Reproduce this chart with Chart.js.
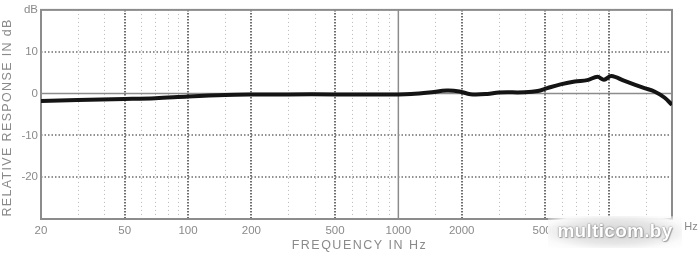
<!DOCTYPE html>
<html>
<head>
<meta charset="utf-8">
<script src="https://cdn.jsdelivr.net/npm/chart.js@4/dist/chart.umd.min.js"></script>
<style>
    html, body { margin: 0; padding: 0; background: #fff; }
    #wrap { position: relative; width: 700px; height: 254px; }
    #mark {
        position: absolute; left: 548px; top: 216px; width: 134px; height: 32px;
        background: radial-gradient(ellipse at center, #d4d4d4 0%, #e6e6e6 50%, rgba(250,250,250,0.95) 78%, rgba(255,255,255,0) 100%);
        font: bold 19px "Liberation Sans", Arial, sans-serif; color: #fff;
        text-align: center; line-height: 30px; letter-spacing: 0.3px;
        text-shadow: 0 0 1px #777, 0 0 2px #999, 1px 1px 1px #aaa;
    }
</style>
</head>
<body>
<div id="wrap">
    <canvas id="responseChart" width="700" height="254"></canvas>
    <div id="mark">multicom.by</div>
</div>
<script>
// frequency response (Hz, dB)
const freqs = [20, 30, 50, 70, 100, 150, 200, 300, 500, 700, 1000, 1150, 1400, 1700, 1950, 2200, 2650, 3000, 4000, 4600, 5100, 5900, 6900, 7900, 8850, 9500, 10300, 11900, 14800, 16500, 18400, 20000];
const responseDb = [-1.8, -1.55, -1.3, -1.1, -0.7, -0.35, -0.25, -0.2, -0.2, -0.25, -0.2, -0.1, 0.25, 0.7, 0.5, -0.15, -0.1, 0.25, 0.3, 0.6, 1.3, 2.2, 2.9, 3.2, 4.0, 3.3, 4.2, 3.0, 1.3, 0.5, -0.95, -2.7];

const freqTicks = [20, 50, 100, 200, 500, 1000, 2000, 5000, 10000];
const majorLines = [50, 100, 200, 500, 2000, 5000, 10000];
const minorLines = [30, 40, 60, 70, 80, 90, 150, 300, 400, 600, 700, 800, 900, 1500, 3000, 4000, 6000, 7000, 8000, 9000, 15000];
const dbTicks = [-20, -10, 0, 10, 20];
const dbDotted = [10, -10, -20];

const xTitle = "FREQUENCY IN Hz";
const yTitle = "RELATIVE RESPONSE IN dB";
const unitLabel = "Hz";

const textGrey = "#8a8a8a";
const fontFamily = "'Liberation Sans', Arial, sans-serif";

// grid + frame, drawn through the chart's scales
const gridPlugin = {
    id: "responseGrid",
    beforeDatasetsDraw(chart) {
        const { ctx, chartArea: a, scales: { x, y } } = chart;
        ctx.save();

        ctx.lineWidth = 1;
        ctx.strokeStyle = "#b8b8b8";
        ctx.setLineDash([1, 3]);
        for (const f of minorLines) {
            const px = Math.round(x.getPixelForValue(f)) + 0.5;
            ctx.beginPath(); ctx.moveTo(px, a.top); ctx.lineTo(px, a.bottom); ctx.stroke();
        }

        ctx.lineWidth = 2;
        ctx.strokeStyle = "#6e6e6e";
        ctx.setLineDash([1.5, 1.5]);
        for (const f of majorLines) {
            const px = Math.round(x.getPixelForValue(f));
            ctx.beginPath(); ctx.moveTo(px, a.top); ctx.lineTo(px, a.bottom); ctx.stroke();
        }
        ctx.lineWidth = 1.5;
        ctx.setLineDash([1.5, 2]);
        for (const v of dbDotted) {
            const py = Math.round(y.getPixelForValue(v));
            ctx.beginPath(); ctx.moveTo(a.left, py); ctx.lineTo(a.right, py); ctx.stroke();
        }

        ctx.setLineDash([]);
        ctx.strokeStyle = "#8c8c8c";
        ctx.lineWidth = 1.5;
        const px1k = x.getPixelForValue(1000);
        ctx.beginPath(); ctx.moveTo(px1k, a.top); ctx.lineTo(px1k, a.bottom); ctx.stroke();
        const py0 = y.getPixelForValue(0);
        ctx.beginPath(); ctx.moveTo(a.left, py0); ctx.lineTo(a.right, py0); ctx.stroke();

        ctx.lineWidth = 2;
        ctx.strokeRect(a.left, a.top, a.right - a.left, a.bottom - a.top);
        ctx.restore();
    },
    afterDraw(chart) {
        const { ctx, chartArea: a } = chart;
        ctx.save();
        ctx.fillStyle = textGrey;
        ctx.textAlign = "center";
        ctx.textBaseline = "middle";

        ctx.font = "11px " + fontFamily;
        ctx.fillText(unitLabel, a.right + 19, a.bottom + 8);

        ctx.font = "12.5px " + fontFamily;
        ctx.letterSpacing = "1.5px";
        ctx.fillText(xTitle, (a.left + a.right) / 2 + 3, 246);

        ctx.translate(8, (a.top + a.bottom) / 2 + 3);
        ctx.rotate(-Math.PI / 2);
        ctx.letterSpacing = "1.35px";
        ctx.fillText(yTitle, 0, 0);
        ctx.restore();
    }
};

new Chart(document.getElementById("responseChart"), {
    type: "line",
    data: {
        datasets: [{
            data: freqs.map((f, i) => ({ x: f, y: responseDb[i] })),
            borderColor: "#141414",
            borderWidth: 4,
            pointRadius: 0,
            tension: 0.35,
            fill: false
        }]
    },
    options: {
        responsive: false,
        animation: false,
        devicePixelRatio: 1,
        layout: { padding: { left: 0, right: 28, top: 9, bottom: 0 } },
        plugins: { legend: { display: false }, tooltip: { enabled: false } },
        scales: {
            x: {
                type: "logarithmic",
                min: 20,
                max: 20000,
                grid: { display: false, drawTicks: false },
                border: { display: false },
                afterBuildTicks: (s) => { s.ticks = freqTicks.map(v => ({ value: v })); },
                afterFit: (s) => { s.height = 35; },
                ticks: {
                    autoSkip: false,
                    maxRotation: 0,
                    padding: 5,
                    color: textGrey,
                    font: { family: fontFamily, size: 11.5 },
                    callback: (v) => String(v)
                }
            },
            y: {
                min: -30,
                max: 20,
                grid: { display: false, drawTicks: false },
                border: { display: false },
                afterBuildTicks: (s) => { s.ticks = dbTicks.map(v => ({ value: v })); },
                afterFit: (s) => { s.width = 41; },
                ticks: {
                    padding: 3,
                    color: textGrey,
                    font: { family: fontFamily, size: 11.5 },
                    callback: (v) => (v === 20 ? "dB" : String(v))
                }
            }
        }
    },
    plugins: [gridPlugin]
});
</script>
</body>
</html>
